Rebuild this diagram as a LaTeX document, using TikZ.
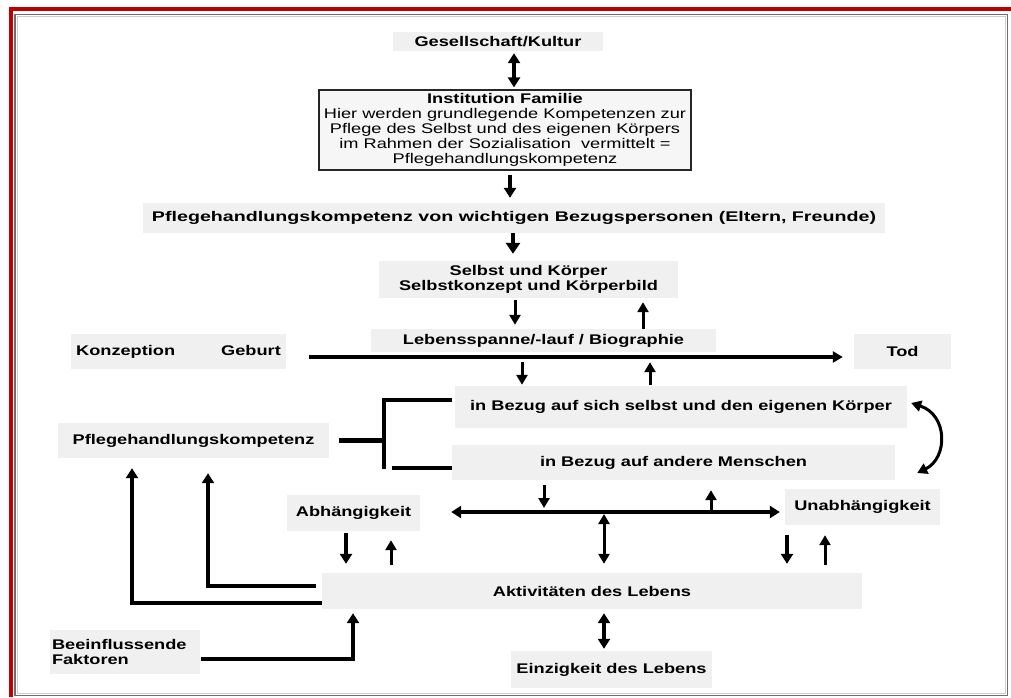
\documentclass[tikz,border=0pt]{standalone}
\usepackage{fontspec}
\setmainfont{Liberation Sans}
\newfontfamily\lab[FakeStretch=1.3]{Liberation Sans}
\usetikzlibrary{arrows.meta}
\definecolor{boxgray}{HTML}{F0F0F0}
\definecolor{framered}{HTML}{C00000}
\definecolor{framegray}{HTML}{6E6E6E}
\tikzset{
  lbl/.style={font=\lab\bfseries\fontsize{14}{15.5}\selectfont, text=black},
  gbox/.style={lbl, fill=boxgray, inner sep=0pt, align=center},
  arr/.style={line width=3.6pt, -{Triangle[length=10pt,width=12pt]}},
  tarr/.style={line width=3pt, -{Triangle[length=10pt,width=11pt]}},
  dbl/.style={line width=3.6pt, {Triangle[length=10pt,width=12pt]}-{Triangle[length=10pt,width=12pt]}},
  tdbl/.style={line width=3pt, {Triangle[length=10pt,width=11pt]}-{Triangle[length=10pt,width=11pt]}},
  brk/.style={line width=4.5pt}
}
\begin{document}
\begin{tikzpicture}[x=1pt,y=-1pt]
\useasboundingbox (0,0) rectangle (1011,697);
% frames
\draw[framered, line width=4pt] (10.5,697) -- (10.5,9) -- (1011,9);
\draw[framegray, line width=1.5pt] (15,14.5) rectangle (1007.5,695.5);
\draw[black!20, line width=0.8pt] (17,16.5) rectangle (1005.5,693.5);

% nodes
\node[gbox, minimum width=210, minimum height=19] (g) at (498,41.5) {Gesellschaft/Kultur};
\node[lbl, fill=boxgray!60!white, draw=black!85, line width=1.2pt, minimum width=372, minimum height=80, inner sep=0pt, align=center] (fam) at (505,130)
  {Institution Familie\\[-0.5pt]
   \mdseries Hier werden grundlegende Kompetenzen zur\\[-0.5pt]
   \mdseries Pflege des Selbst und des eigenen Körpers\\[-0.5pt]
   \mdseries im Rahmen der Sozialisation\ \ vermittelt =\\[-0.5pt]
   \mdseries Pflegehandlungskompetenz};
\node[gbox, minimum width=742, minimum height=30] (bez) at (514,218) {\scalebox{1.08}[1]{Pflegehandlungskompetenz von wichtigen Bezugspersonen (Eltern, Freunde)}};
\node[gbox, minimum width=299, minimum height=37] (sk) at (528.5,279.5) {Selbst und Körper\\Selbstkonzept und Körperbild};
\node[gbox, minimum width=345, minimum height=23] (leb) at (543.5,340.5) {Lebensspanne/-lauf / Biographie};
\node[gbox, minimum width=215, minimum height=35] (kg) at (178.5,351.5) {Konzeption\hspace{46pt}Geburt};
\node[gbox, minimum width=97, minimum height=35] (tod) at (902.5,351.5) {Tod};
\node[gbox, minimum width=452, minimum height=42] (bs) at (681,407) {in Bezug auf sich selbst und den eigenen Körper};
\node[gbox, minimum width=443, minimum height=35] (ba) at (673.5,462.5) {in Bezug auf andere Menschen};
\node[gbox, minimum width=271, minimum height=35] (pk) at (193.5,440.5) {Pflegehandlungskompetenz};
\node[gbox, minimum width=133, minimum height=36] (abh) at (353.5,513) {Abhängigkeit};
\node[gbox, minimum width=155, minimum height=36] (unab) at (862.5,507) {Unabhängigkeit};
\node[gbox, minimum width=540, minimum height=36] (akt) at (592,591) {Aktivitäten des Lebens};
\node[gbox, minimum width=150, minimum height=44, align=left, text width=146pt, inner xsep=2pt] (bf) at (125,652) {Beeinflussende\\Faktoren};
\node[gbox, minimum width=201, minimum height=37] (ein) at (611.5,669.5) {Einzigkeit des Lebens};

\coordinate (hy) at (0,512);

% top chain
\draw[dbl, shorten <=2pt, shorten >=2pt] ([xshift=16]g.south) -- ([xshift=16]g.south |- fam.north);
\draw[arr, shorten <=4pt, shorten >=5pt] ([xshift=5]fam.south) -- ([xshift=5]fam.south |- bez.north);
\draw[line width=4.5pt, -{Triangle[length=11pt,width=14pt]}, shorten >=7pt] ([xshift=-1]bez.south) -- ([xshift=-1]bez.south |- sk.north);
\draw[tarr, shorten <=2pt, shorten >=4pt] ([xshift=-13.5]sk.south) -- ([xshift=-13.5]sk.south |- leb.north);
\draw[tarr, shorten >=4pt] ([xshift=114.5]sk.south |- leb.north) -- ([xshift=114.5]sk.south);

% life line
\draw[line width=3.4pt, -{Triangle[length=10pt,width=11pt]}, shorten <=23pt, shorten >=11pt] ([yshift=-5.5]kg.east) -- ([yshift=-5.5]tod.west);
\draw[tarr, shorten <=10pt, shorten >=1pt] ([xshift=-21.5]leb.south) -- ([xshift=-21.5]leb.south |- bs.north);
\draw[tarr, shorten <=1pt, shorten >=10pt] ([xshift=-31]bs.north) -- ([xshift=-31]bs.north |- leb.south);

% bracket
\coordinate (bt) at (384,400);
\coordinate (bb) at (384,469);
\draw[line width=5.5pt, shorten <=10pt] (pk.east) -- (pk.east -| bt);
\draw[brk] ([xshift=-3,yshift=7]bs.west) -- (bt) -- (bb);
\draw[brk] ([xshift=8,yshift=1]bb) -- ([yshift=-5.5]ba.west);

% curved arrow
\draw[tdbl] ([xshift=4,yshift=4]bs.east) .. controls (948,415) and (948,458) .. ([xshift=22,yshift=-10.5]ba.east);

% middle row
\draw[dbl, line width=3.4pt, shorten <=31pt, shorten >=5pt] (abh.east |- hy) -- (unab.west |- hy);
\draw[tarr, shorten <=5pt, shorten >=4pt] ([xshift=-129.5]ba.south) -- ([xshift=-129.5]ba.south |- hy);
\draw[tarr, shorten >=10pt] ([xshift=37.5]ba.south |- hy) -- ([xshift=37.5]ba.south);
\draw[tdbl, shorten <=2pt, shorten >=9pt] ([xshift=12]akt.north |- hy) -- ([xshift=12]akt.north);

\draw[arr, shorten <=2pt, shorten >=9pt] ([xshift=-7.5]abh.south) -- ([xshift=-7.5]abh.south |- akt.north);
\draw[tarr, shorten <=8pt, shorten >=9pt] ([xshift=37.5]abh.south |- akt.north) -- ([xshift=37.5]abh.south);
\draw[arr, shorten <=10pt, shorten >=9pt] ([xshift=-75.5]unab.south) -- ([xshift=-75.5]unab.south |- akt.north);
\draw[tarr, shorten <=8pt, shorten >=10pt] ([xshift=-37.5]unab.south |- akt.north) -- ([xshift=-37.5]unab.south);

% left feedback
\draw[arr, shorten >=10pt] ([yshift=-12]akt.west) -| ([xshift=-61.5]pk.south);
\draw[arr, shorten <=6pt, shorten >=15pt] ([yshift=5]akt.west) -| ([xshift=14.5]pk.south);

% bottom
\draw[arr, shorten <=1pt, shorten >=4pt] ([yshift=-7]bf.east) -| ([xshift=-239]akt.south);
\draw[dbl, shorten <=4pt, shorten >=2pt] ([xshift=12]akt.south) -- ([xshift=12]akt.south |- ein.north);
\end{tikzpicture}
\end{document}
